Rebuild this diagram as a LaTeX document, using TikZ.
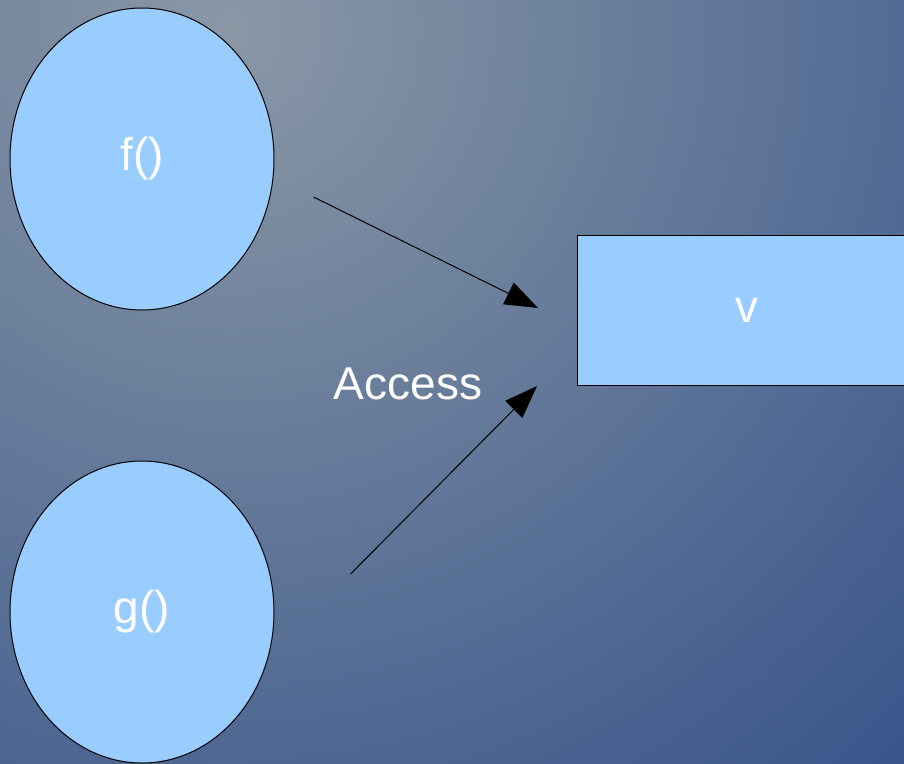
\documentclass[tikz,border=0pt]{standalone}
\usepackage{fontspec}
\setmainfont{Liberation Sans}
\usetikzlibrary{
    arrows.meta,
    shapes,
    positioning,
}
\definecolor{BgLight}{HTML}{8A98A6}
\definecolor{BgDark}{HTML}{34528A}
\definecolor{FuncBlue}{HTML}{99CCFF}
\tikzstyle{func}=[draw,ellipse,line width=1pt,fill=FuncBlue,text=white,inner sep=0mm,minimum width=264pt,minimum height=302pt,font=\fontsize{46}{50}\selectfont]
\tikzstyle{var}=[draw,rectangle,line width=1pt,fill=FuncBlue,text=white,inner sep=0mm,minimum width=338pt,minimum height=150pt,font=\fontsize{46}{50}\selectfont]
\tikzset{
    >={Triangle[length=33pt,width=24pt]}
}

\begin{document}
\begin{tikzpicture}[x=1pt,y=-1pt]
    % Background
    \useasboundingbox (0,0) rectangle (904,763);
    \begin{scope}
        \clip (0,0) rectangle (904,763);
        \fill[BgDark] (0,0) rectangle (904,763);
        \shade[inner color=BgLight,outer color=BgDark] (230,30) circle (1050pt);
    \end{scope}

    % Nodes
    \node[func] (f) at (142,159) {f()};
    \node[func] (g) at (142,612) {g()};
    \node[var,anchor=west] (v) at (577,310) {v};
    \node[text=white,font=\fontsize{46}{50}\selectfont] (access) at (408,384) {Access};

    % Arrows
    \coordinate (f out) at ([xshift=39pt,yshift=-38pt]f.east);
    \coordinate (g out) at ([xshift=76pt,yshift=38pt]g.east);
    \coordinate (v in top) at ([xshift=-39pt,yshift=2pt]v.west);
    \coordinate (v in bot) at ([xshift=-40pt,yshift=-76pt]v.west);
    \draw[->,line width=1pt] (f out) -- (v in top);
    \draw[->,line width=1pt] (g out) -- (v in bot);
\end{tikzpicture}
\end{document}
